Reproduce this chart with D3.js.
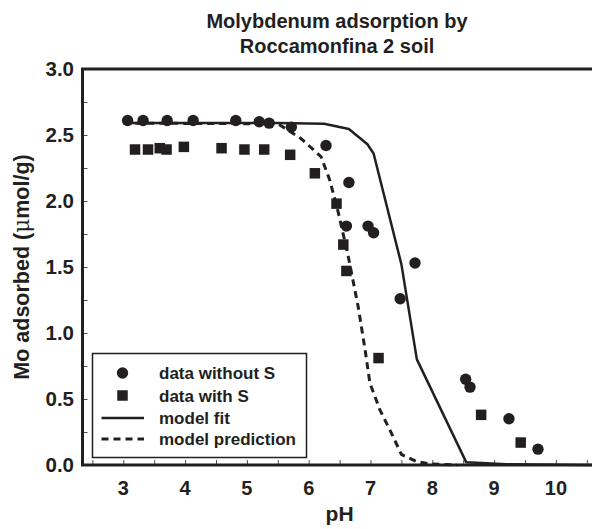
<!DOCTYPE html>
<html><head><meta charset="utf-8">
<script src="https://cdn.jsdelivr.net/npm/d3@7"></script>
<style>body{margin:0;background:#fff}svg{display:block}text{font-family:"Liberation Sans",Arial,Helvetica,sans-serif;fill:#231f20}</style>
</head><body>
<svg id="c" width="592" height="529"></svg>
<script>
// data: pH and Mo adsorbed (µmol/g)
const withoutS_pH = [3.07,3.32,3.71,4.13,4.82,5.20,5.36,5.72,6.28,6.65,6.61,6.96,7.05,7.72,7.48,8.54,8.61,9.24,9.71];
const withoutS_Mo = [2.61,2.61,2.61,2.61,2.61,2.60,2.59,2.56,2.42,2.14,1.81,1.81,1.76,1.53,1.26,0.65,0.59,0.35,0.12];
const withS_pH = [3.19,3.40,3.59,3.70,3.98,4.59,4.96,5.28,5.70,6.10,6.45,6.56,6.61,7.13,8.79,9.43];
const withS_Mo = [2.39,2.39,2.40,2.39,2.41,2.40,2.39,2.39,2.35,2.21,1.98,1.67,1.47,0.81,0.38,0.17];
const fit_pH = [3.0,5.5,6.25,6.65,6.95,7.05,7.5,7.75,8.55,9.2,10.6];
const fit_Mo = [2.59,2.59,2.585,2.545,2.43,2.36,1.52,0.80,0.02,0.005,0];
const pred_pH = [3.0,5.5,5.87,6.2,6.34,6.48,6.64,6.80,6.91,6.99,7.15,7.34,7.5,7.75,7.96,8.4];
const pred_Mo = [2.59,2.585,2.475,2.336,2.16,1.91,1.58,1.20,0.88,0.62,0.42,0.24,0.08,0.025,0.008,0];
const xTicks = [3,4,5,6,7,8,9,10];
const yTicks = [0.0,0.5,1.0,1.5,2.0,2.5,3.0];
const legendLabels = ["data without S","data with S","model fit","model prediction"];
const titleLines = ["Molybdenum adsorption by","Roccamonfina 2 soil"];

const ink = "#231f20";
const svg = d3.select("#c");
const L = 82.5, R = 593, T = 69, B = 465;
const x = d3.scaleLinear().domain([2.34, 10.6]).range([L, R]);
const y = d3.scaleLinear().domain([0, 3]).range([B, T]);

// minor/major ticks (inward)
const xAxis = d3.axisTop(x).tickValues(d3.range(2.5, 10.6, 0.5)).tickSize(5).tickFormat("");
const gx = svg.append("g").attr("transform", `translate(0,${B})`).call(xAxis);
gx.select(".domain").remove();
gx.selectAll("line").attr("stroke", ink).attr("stroke-width", 0.8);
const yAxis = d3.axisRight(y).tickValues(d3.range(0.25, 3, 0.25)).tickSize(5).tickFormat("");
const gy = svg.append("g").attr("transform", `translate(${L},0)`).call(yAxis);
gy.select(".domain").remove();
gy.selectAll("line").attr("stroke", ink).attr("stroke-width", 0.8);

// frame
svg.append("path").attr("d", `M${R},${T}H${L}V${B}H${R}`).attr("fill", "none").attr("stroke", ink).attr("stroke-width", 3);

// tick labels
svg.append("g").selectAll("text").data(xTicks).join("text")
  .attr("x", d => x(d)).attr("y", 495).attr("text-anchor", "middle")
  .attr("font-size", 20).attr("font-weight", "bold").text(d => d);
svg.append("g").selectAll("text").data(yTicks).join("text")
  .attr("x", 74).attr("y", d => y(d) + 7).attr("text-anchor", "end")
  .attr("font-size", 20.5).attr("font-weight", "bold").text(d => d.toFixed(1));

// axis titles
svg.append("text").attr("x", x(6.5)).attr("y", 521).attr("text-anchor", "middle")
  .attr("font-size", 21).attr("font-weight", "bold").text("pH");
const yt = svg.append("text").attr("transform", "translate(29,267) rotate(-90)")
  .attr("text-anchor", "middle").attr("font-size", 21.5).attr("font-weight", "bold");
yt.append("tspan").text("Mo adsorbed (");
yt.append("tspan").attr("font-weight", "normal").attr("font-family", "DejaVu Serif").text("μ");
yt.append("tspan").text("mol/g)");

// title
svg.append("g").selectAll("text").data(titleLines).join("text")
  .attr("x", 337).attr("y", (d, i) => 28 + i * 25).attr("text-anchor", "middle")
  .attr("font-size", 20).attr("font-weight", "bold").text(d => d);

// lines
const line = d3.line().x(d => x(d[0])).y(d => y(d[1]));
svg.append("path").datum(fit_pH.map((p, i) => [p, fit_Mo[i]]))
  .attr("d", line).attr("fill", "none").attr("stroke", ink).attr("stroke-width", 2.5).attr("stroke-linejoin", "round");
svg.append("path").datum(pred_pH.map((p, i) => [p, pred_Mo[i]]))
  .attr("d", line).attr("fill", "none").attr("stroke", ink).attr("stroke-width", 3).attr("stroke-dasharray", "7,5");

// points
svg.append("g").selectAll("circle").data(withoutS_pH.map((p, i) => [p, withoutS_Mo[i]])).join("circle")
  .attr("cx", d => x(d[0])).attr("cy", d => y(d[1])).attr("r", 5.7).attr("fill", ink);
const s = 10.5;
svg.append("g").selectAll("rect").data(withS_pH.map((p, i) => [p, withS_Mo[i]])).join("rect")
  .attr("x", d => x(d[0]) - s / 2).attr("y", d => y(d[1]) - s / 2).attr("width", s).attr("height", s).attr("fill", ink);

// legend
const lg = svg.append("g");
lg.append("rect").attr("x", 92.5).attr("y", 353.5).attr("width", 214).attr("height", 104)
  .attr("fill", "#fff").attr("stroke", ink).attr("stroke-width", 1.5);
const ly = [373, 395.5, 418, 439];
lg.append("circle").attr("cx", 122.5).attr("cy", ly[0]).attr("r", 5.7).attr("fill", ink);
lg.append("rect").attr("x", 122.5 - s / 2).attr("y", ly[1] - s / 2).attr("width", s).attr("height", s).attr("fill", ink);
lg.append("line").attr("x1", 101.5).attr("x2", 144).attr("y1", ly[2]).attr("y2", ly[2]).attr("stroke", ink).attr("stroke-width", 2.5);
lg.append("line").attr("x1", 101.5).attr("x2", 144).attr("y1", ly[3]).attr("y2", ly[3]).attr("stroke", ink).attr("stroke-width", 3).attr("stroke-dasharray", "7,5");
lg.selectAll("text.l").data(legendLabels).join("text").attr("class", "l")
  .attr("x", 159).attr("y", (d, i) => ly[i] + 6).attr("font-size", 17).attr("font-weight", "bold").text(d => d);
</script>
</body></html>
